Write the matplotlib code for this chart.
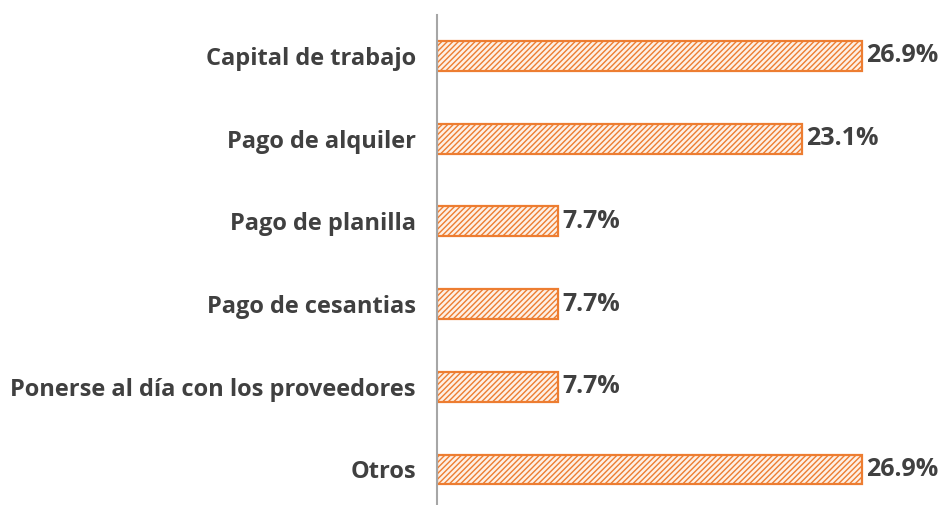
import matplotlib.pyplot as plt
import matplotlib as mpl

categories = ["Capital de trabajo", "Pago de alquiler", "Pago de planilla",
              "Pago de cesantias", "Ponerse al día con los proveedores", "Otros"]
values = [26.9, 23.1, 7.7, 7.7, 7.7, 26.9]

ORANGE = "#ED7D31"
TEXT = "#404040"

mpl.rcParams["hatch.color"] = ORANGE
mpl.rcParams["hatch.linewidth"] = 1.0
plt.rcParams["font.family"] = ["Open Sans", "DejaVu Sans"]

fig = plt.figure(figsize=(9.41, 5.05), dpi=100)
ax = fig.add_axes([0.464, 0.0, 0.504, 0.971])

y = list(range(len(categories)))
bars = ax.barh(y, values, height=0.36, color="#FDF0E6", edgecolor=ORANGE,
               linewidth=1.6, hatch="//////")

ax.bar_label(bars, labels=[f"{v:.1f}%" for v in values], padding=3,
             fontsize=18, fontweight="bold", color=TEXT)

ax.set_xlim(0, 30)
ax.set_ylim(5.43, -0.5)
ax.set_yticks(y)
ax.set_yticklabels(categories, fontsize=17, fontweight="bold", color=TEXT)
ax.tick_params(axis="y", length=0, pad=15)
ax.set_xticks([])

for s in ["top", "right", "bottom"]:
    ax.spines[s].set_visible(False)
ax.spines["left"].set_color("#A6A6A6")
ax.spines["left"].set_linewidth(1.5)

fig.savefig("out.png", dpi=100, facecolor="white")
